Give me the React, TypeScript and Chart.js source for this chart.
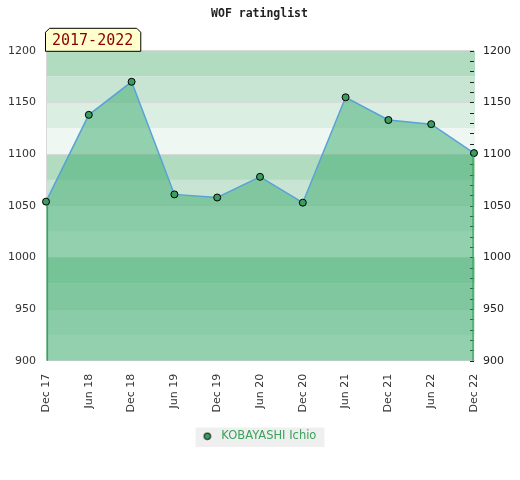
import React, { useEffect, useRef } from "react";
import { Chart, registerables } from "chart.js";

Chart.register(...registerables);

const TITLE = "WOF ratinglist";
const PERIOD_LABEL = "2017-2022";
const PLAYER = "KOBAYASHI Ichio";
const CATEGORIES = ["Dec 17", "Jun 18", "Dec 18", "Jun 19", "Dec 19", "Jun 20", "Dec 20", "Jun 21", "Dec 21", "Jun 22", "Dec 22"];
const RATINGS = [1054, 1138, 1170, 1061, 1058, 1078, 1053, 1155, 1133, 1129, 1101];
const Y_MIN = 900;
const Y_MAX = 1200;
const LABEL_STEP = 50;
const MINOR_STEP = 10;
const BAND_STEP = 25;

const BAND_COLORS = ["#b2dcc0", "#c8e5d3", "#dbeee2", "#eef7f1"];
const POINT_COLOR = "#3a9e5e";

function makeLegendMarker(): HTMLCanvasElement {
  const c = document.createElement("canvas");
  c.width = 13;
  c.height = 9;
  const g = c.getContext("2d");
  if (g) {
    g.beginPath();
    g.arc(4.75, 4.5, 3.3, 0, Math.PI * 2);
    g.fillStyle = POINT_COLOR;
    g.fill();
    g.strokeStyle = "#000";
    g.lineWidth = 1;
    g.stroke();
  }
  return c;
}

const bandsPlugin = {
  id: "bands",
  beforeDraw(chart: any) {
    const { ctx, chartArea, scales } = chart;
    const y = scales.y;
    ctx.save();
    for (let v = Y_MAX; v > Y_MIN; v -= BAND_STEP) {
      const idx = ((100 - (v % 100)) % 100) / BAND_STEP;
      const top = y.getPixelForValue(v);
      const bot = y.getPixelForValue(v - BAND_STEP);
      ctx.fillStyle = BAND_COLORS[idx % 4];
      ctx.fillRect(chartArea.left, top, chartArea.right - chartArea.left + 1, bot - top);
    }
    const legend = chart.legend;
    if (legend && legend.legendHitBoxes && legend.legendHitBoxes.length) {
      const hb = legend.legendHitBoxes[0];
      ctx.fillStyle = "#efefef";
      ctx.fillRect(hb.left - 7, hb.top - 3, hb.width + 15, hb.height + 8);
    }
    ctx.restore();
  },
  beforeDatasetsDraw(chart: any) {
    const { ctx, chartArea, scales } = chart;
    const yr = scales.yR;
    ctx.save();
    ctx.strokeStyle = "#222";
    ctx.lineWidth = 1;
    ctx.beginPath();
    yr.ticks.forEach((t: any) => {
      const py = Math.round(yr.getPixelForValue(t.value)) + 0.5;
      ctx.moveTo(chartArea.right - 4, py);
      ctx.lineTo(chartArea.right, py);
    });
    ctx.stroke();
    ctx.restore();
  },
  afterDatasetsDraw(chart: any) {
    const { ctx, chartArea } = chart;
    const meta = chart.getDatasetMeta(0);
    const pts = meta.data;
    if (!pts.length) return;
    ctx.save();
    ctx.strokeStyle = "#3aa35c";
    ctx.lineWidth = 1.2;
    ctx.beginPath();
    const first = pts[0];
    const last = pts[pts.length - 1];
    ctx.moveTo(first.x + 1.5, first.y + 3);
    ctx.lineTo(first.x + 1.5, chartArea.bottom);
    ctx.moveTo(last.x - 1, last.y + 3);
    ctx.lineTo(last.x - 1, chartArea.bottom);
    ctx.stroke();
    ctx.restore();
  },
  afterDraw(chart: any) {
    const { ctx, chartArea } = chart;
    ctx.save();
    ctx.font = "15px 'DejaVu Sans Mono'";
    const w = ctx.measureText(PERIOD_LABEL).width + 14;
    const h = 23;
    const x = chartArea.left - 1;
    const y = chartArea.top - h;
    const c = 4;
    ctx.beginPath();
    ctx.moveTo(x + 0.5, y + h + 0.5);
    ctx.lineTo(x + 0.5, y + c + 0.5);
    ctx.lineTo(x + c + 0.5, y + 0.5);
    ctx.lineTo(x + w - c + 0.5, y + 0.5);
    ctx.lineTo(x + w + 0.5, y + c + 0.5);
    ctx.lineTo(x + w + 0.5, y + h + 0.5);
    ctx.closePath();
    ctx.fillStyle = "#ffffcc";
    ctx.fill();
    ctx.strokeStyle = "#000";
    ctx.lineWidth = 1;
    ctx.stroke();
    ctx.fillStyle = "#8b0000";
    ctx.textBaseline = "middle";
    ctx.textAlign = "left";
    ctx.fillText(PERIOD_LABEL, x + 7, y + h / 2 + 2);
    ctx.restore();
  },
};

export default function App() {
  const ref = useRef<HTMLCanvasElement | null>(null);
  useEffect(() => {
    document.body.style.margin = "0";
    const canvas = ref.current;
    if (!canvas) return;
    const tickFont = { family: "'DejaVu Sans'", size: 11 };
    const marker = makeLegendMarker();
    const chart = new Chart(canvas, {
      type: "line",
      data: {
        labels: CATEGORIES,
        datasets: [
          {
            label: PLAYER,
            data: RATINGS,
            borderColor: "#58a2d8",
            borderWidth: 1.5,
            backgroundColor: "rgba(56,170,108,0.5)",
            fill: "start",
            tension: 0,
            pointRadius: 3.5,
            pointBackgroundColor: POINT_COLOR,
            pointBorderColor: "#000",
            pointBorderWidth: 1,
            clip: false as any,
          },
        ],
      },
      options: {
        responsive: false,
        animation: false,
        devicePixelRatio: 1,
        layout: { padding: { left: 1, right: 2, top: 0, bottom: 28 } },
        plugins: {
          title: {
            display: true,
            text: TITLE,
            color: "#222",
            font: { family: "'DejaVu Sans Mono'", size: 11.5, weight: "bold" },
            padding: { top: 7, bottom: 30 },
          },
          legend: {
            position: "bottom",
            labels: {
              usePointStyle: true,
              pointStyle: marker as any,
              pointStyleWidth: 13,
              boxWidth: 13,
              boxHeight: 9,
              color: "#3aa35c",
              font: { family: "'DejaVu Sans'", size: 11.5 },
              padding: 10,
            },
          },
          tooltip: { enabled: false },
        },
        scales: {
          x: {
            offset: false,
            afterFit: (s: any) => {
              s.height -= 5;
            },
            grid: { display: false, drawTicks: false },
            border: { display: true, color: "#d8d8d8" },
            ticks: {
              minRotation: 90,
              maxRotation: 90,
              autoSkip: false,
              padding: 13,
              color: "#333",
              font: tickFont,
            },
          },
          y: {
            position: "left",
            min: Y_MIN,
            max: Y_MAX,
            afterFit: (s: any) => {
              s.width = 45;
            },
            grid: { color: "#d9d9d9", drawTicks: false, lineWidth: 1 },
            border: { display: true, color: "#d8d8d8" },
            ticks: {
              stepSize: LABEL_STEP,
              padding: 10,
              color: "#333",
              font: tickFont,
              callback: (v: any) => String(v),
            },
          },
          yR: {
            position: "right",
            min: Y_MIN,
            max: Y_MAX,
            afterFit: (s: any) => {
              s.width = 44;
            },
            grid: { drawOnChartArea: false, drawTicks: false },
            border: { display: false },
            ticks: {
              stepSize: MINOR_STEP,
              autoSkip: false,
              padding: 9,
              color: "#222",
              font: tickFont,
              callback: (v: any) => (Number(v) % LABEL_STEP === 0 ? String(v) : ""),
            },
          },
        },
      },
      plugins: [bandsPlugin],
    });
    return () => chart.destroy();
  }, []);
  return (
    <div style={{ position: "absolute", left: 0, top: 0, width: 520, height: 480 }}>
      <canvas ref={ref} width={520} height={480} />
    </div>
  );
}
